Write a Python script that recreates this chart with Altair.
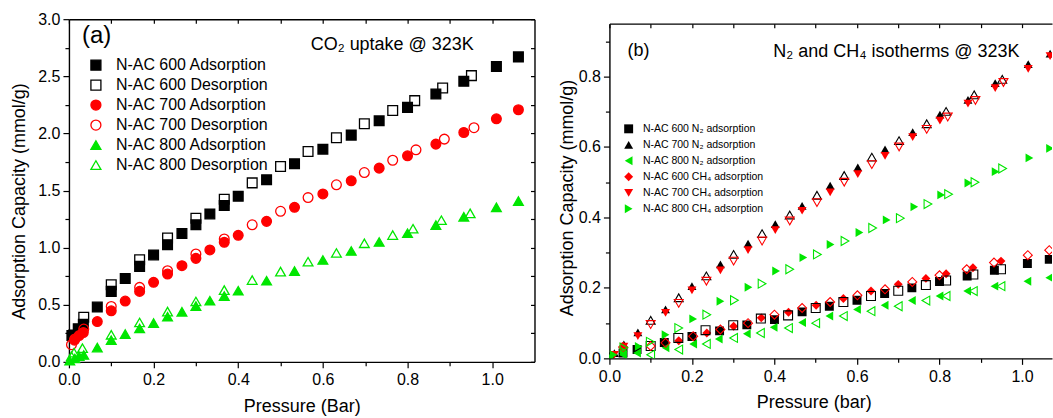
import altair as alt
import pandas as pd

FONT = "Liberation Sans"
BLACK = "#000000"
RED = "#ff0000"
GREEN = "#00e600"

# ---------------- Panel (a): CO2 uptake @ 323K ----------------
a600_ads_x = [0.007, 0.022, 0.034, 0.067, 0.1, 0.133, 0.167, 0.2, 0.233, 0.267, 0.3, 0.333, 0.367, 0.4, 0.467, 0.533, 0.6, 0.667, 0.733, 0.8, 0.867, 0.933, 1.01, 1.062]
a600_ads_y = [0.23, 0.29, 0.33, 0.48, 0.617, 0.73, 0.836, 0.936, 1.026, 1.123, 1.2, 1.295, 1.368, 1.45, 1.594, 1.734, 1.862, 1.985, 2.11, 2.228, 2.345, 2.456, 2.585, 2.67]
a600_des_x = [0.011, 0.035, 0.1, 0.167, 0.233, 0.3, 0.367, 0.433, 0.5, 0.565, 0.632, 0.698, 0.765, 0.817, 0.883, 0.951]
a600_des_y = [0.236, 0.39, 0.675, 0.894, 1.085, 1.257, 1.424, 1.567, 1.71, 1.842, 1.962, 2.085, 2.2, 2.287, 2.397, 2.506]
a700_ads_x = [0.013, 0.024, 0.034, 0.067, 0.1, 0.133, 0.167, 0.2, 0.233, 0.267, 0.3, 0.333, 0.367, 0.4, 0.467, 0.533, 0.6, 0.667, 0.733, 0.8, 0.867, 0.933, 1.01, 1.062]
a700_ads_y = [0.19, 0.23, 0.257, 0.353, 0.447, 0.532, 0.617, 0.696, 0.769, 0.842, 0.906, 0.98, 1.047, 1.108, 1.23, 1.353, 1.47, 1.585, 1.696, 1.804, 1.906, 2.008, 2.128, 2.207]
a700_des_x = [0.006, 0.014, 0.035, 0.1, 0.167, 0.233, 0.3, 0.367, 0.433, 0.5, 0.565, 0.632, 0.698, 0.765, 0.82, 0.887, 0.957]
a700_des_y = [0.15, 0.2, 0.287, 0.485, 0.652, 0.798, 0.945, 1.076, 1.2, 1.318, 1.438, 1.55, 1.657, 1.765, 1.856, 1.95, 2.05]
a800_ads_x = [0.002, 0.014, 0.024, 0.035, 0.067, 0.1, 0.133, 0.167, 0.2, 0.233, 0.267, 0.3, 0.333, 0.367, 0.4, 0.467, 0.533, 0.6, 0.667, 0.733, 0.8, 0.867, 0.933, 1.01, 1.062]
a800_ads_y = [0.01, 0.03, 0.05, 0.06, 0.125, 0.19, 0.243, 0.292, 0.339, 0.395, 0.438, 0.488, 0.535, 0.576, 0.623, 0.71, 0.795, 0.892, 0.971, 1.05, 1.126, 1.198, 1.27, 1.353, 1.408]
a800_des_x = [0.006, 0.012, 0.032, 0.1, 0.167, 0.233, 0.3, 0.367, 0.433, 0.5, 0.565, 0.632, 0.698, 0.765, 0.813, 0.88, 0.948]
a800_des_y = [0.05, 0.08, 0.12, 0.237, 0.345, 0.44, 0.529, 0.628, 0.716, 0.79, 0.877, 0.953, 1.038, 1.11, 1.166, 1.24, 1.30]

a_series = ["N-AC 600 Adsorption", "N-AC 600 Desorption", "N-AC 700 Adsorption",
            "N-AC 700 Desorption", "N-AC 800 Adsorption", "N-AC 800 Desorption"]
a_shapes = ["square", "square", "circle", "circle", "triangle-up", "triangle-up"]
a_fills = [BLACK, "transparent", RED, "transparent", GREEN, "transparent"]
a_strokes = [BLACK, BLACK, RED, RED, GREEN, GREEN]

# ---------------- Panel (b): N2 and CH4 isotherms @ 323K ----------------
b600n2_x = [0.0, 0.033, 0.067, 0.133, 0.2, 0.267, 0.333, 0.4, 0.467, 0.533, 0.6, 0.667, 0.733, 0.8, 0.867, 0.933, 1.013, 1.066]
b600n2_y = [0.005, 0.015, 0.025, 0.045, 0.062, 0.078, 0.095, 0.11, 0.132, 0.148, 0.165, 0.184, 0.2, 0.218, 0.234, 0.25, 0.269, 0.281]
b600n2o_x = [0.1, 0.167, 0.233, 0.3, 0.367, 0.433, 0.5, 0.567, 0.634, 0.7, 0.767, 0.816, 0.882, 0.949]
b600n2o_y = [0.035, 0.058, 0.08, 0.094, 0.113, 0.122, 0.143, 0.16, 0.177, 0.192, 0.208, 0.221, 0.238, 0.253]
b700n2_x = [0.0, 0.012, 0.035, 0.069, 0.136, 0.2, 0.269, 0.336, 0.402, 0.467, 0.535, 0.602, 0.668, 0.735, 0.801, 0.869, 0.935, 1.015, 1.068]
b700n2_y = [0.005, 0.015, 0.04, 0.074, 0.139, 0.205, 0.267, 0.326, 0.381, 0.433, 0.49, 0.542, 0.593, 0.642, 0.692, 0.734, 0.781, 0.835, 0.865]
b700n2o_x = [0.1, 0.168, 0.235, 0.301, 0.37, 0.437, 0.503, 0.569, 0.636, 0.702, 0.769, 0.816, 0.884, 0.952]
b700n2o_y = [0.108, 0.172, 0.234, 0.295, 0.354, 0.407, 0.463, 0.519, 0.571, 0.618, 0.666, 0.701, 0.748, 0.792]
b800n2_x = [0.0, 0.033, 0.067, 0.136, 0.203, 0.265, 0.333, 0.398, 0.467, 0.533, 0.6, 0.667, 0.733, 0.8, 0.867, 0.933, 1.013, 1.066]
b800n2_y = [0.003, 0.01, 0.015, 0.03, 0.041, 0.055, 0.07, 0.088, 0.102, 0.12, 0.139, 0.151, 0.164, 0.177, 0.191, 0.205, 0.219, 0.229]
b800n2o_x = [0.1, 0.168, 0.235, 0.301, 0.366, 0.434, 0.5, 0.567, 0.634, 0.7, 0.767, 0.816, 0.882, 0.949]
b800n2o_y = [0.01, 0.025, 0.041, 0.058, 0.072, 0.086, 0.1, 0.12, 0.134, 0.148, 0.164, 0.177, 0.191, 0.205]
b600ch4_x = [0.035, 0.168, 0.236, 0.301, 0.368, 0.434, 0.501, 0.567, 0.634, 0.7, 0.767, 0.816, 0.881, 0.949]
b600ch4_y = [0.03, 0.05, 0.072, 0.091, 0.115, 0.131, 0.151, 0.17, 0.191, 0.21, 0.227, 0.24, 0.257, 0.276]
b600ch4o_x = [0.033, 0.1, 0.136, 0.203, 0.269, 0.336, 0.4, 0.467, 0.535, 0.601, 0.668, 0.734, 0.8, 0.866, 0.932, 1.014, 1.066]
b600ch4o_y = [0.032, 0.035, 0.044, 0.063, 0.082, 0.1, 0.124, 0.143, 0.16, 0.179, 0.196, 0.217, 0.236, 0.253, 0.272, 0.293, 0.307]
b700ch4_x = [0.012, 0.035, 0.069, 0.136, 0.2, 0.269, 0.336, 0.402, 0.467, 0.535, 0.602, 0.668, 0.735, 0.801, 0.869, 0.935, 1.015, 1.068]
b700ch4_y = [0.01, 0.033, 0.063, 0.129, 0.193, 0.25, 0.307, 0.364, 0.419, 0.471, 0.523, 0.575, 0.628, 0.675, 0.723, 0.767, 0.822, 0.858]
b700ch4o_x = [0.1, 0.168, 0.235, 0.301, 0.37, 0.437, 0.503, 0.569, 0.636, 0.702, 0.769, 0.82, 0.887, 0.955]
b700ch4o_y = [0.096, 0.156, 0.219, 0.276, 0.333, 0.39, 0.442, 0.5, 0.55, 0.6, 0.65, 0.685, 0.732, 0.783]
b800ch4_x = [0.0, 0.01, 0.035, 0.071, 0.136, 0.203, 0.269, 0.337, 0.404, 0.47, 0.536, 0.606, 0.672, 0.739, 0.804, 0.87, 0.936, 1.018, 1.068]
b800ch4_y = [0.005, 0.01, 0.02, 0.034, 0.067, 0.112, 0.162, 0.202, 0.248, 0.286, 0.323, 0.357, 0.393, 0.43, 0.464, 0.498, 0.53, 0.569, 0.596]
b800ch4o_x = [0.035, 0.099, 0.168, 0.236, 0.303, 0.37, 0.437, 0.504, 0.571, 0.638, 0.705, 0.772, 0.822, 0.886, 0.953]
b800ch4o_y = [0.03, 0.047, 0.086, 0.124, 0.165, 0.212, 0.253, 0.295, 0.333, 0.37, 0.398, 0.438, 0.466, 0.5, 0.539]

b_series = ["N-AC 600 N\u2082 adsorption", "N-AC 700 N\u2082 adsorption", "N-AC 800 N\u2082 adsorption",
            "N-AC 600 CH\u2084 adsorption", "N-AC 700 CH\u2084 adsorption", "N-AC 800 CH\u2084 adsorption"]
b_shapes = ["square", "triangle-up", "triangle-left", "diamond", "triangle-down", "triangle-right"]
b_colors = [BLACK, BLACK, GREEN, RED, RED, GREEN]

a_ticks_x = [0.0, 0.1, 0.2, 0.3, 0.4, 0.5, 0.6, 0.7, 0.8, 0.9, 1.0]
a_ticks_y = [0.0, 0.25, 0.5, 0.75, 1.0, 1.25, 1.5, 1.75, 2.0, 2.25, 2.5, 2.75, 3.0]
b_ticks_x = [0.0, 0.1, 0.2, 0.3, 0.4, 0.5, 0.6, 0.7, 0.8, 0.9, 1.0]
b_ticks_y = [0.0, 0.1, 0.2, 0.3, 0.4, 0.5, 0.6, 0.7, 0.8, 0.9]


def long_df(groups):
    rows = []
    for name, xs, ys in groups:
        for xv, yv in zip(xs, ys):
            rows.append({"x": xv, "y": yv, "series": name})
    return pd.DataFrame(rows)


dfa = long_df([
    (a_series[0], a600_ads_x, a600_ads_y), (a_series[1], a600_des_x, a600_des_y),
    (a_series[2], a700_ads_x, a700_ads_y), (a_series[3], a700_des_x, a700_des_y),
    (a_series[4], a800_ads_x, a800_ads_y), (a_series[5], a800_des_x, a800_des_y),
])
dfb_f = long_df([
    (b_series[0], b600n2_x, b600n2_y), (b_series[1], b700n2_x, b700n2_y),
    (b_series[2], b800n2_x, b800n2_y), (b_series[3], b600ch4_x, b600ch4_y),
    (b_series[4], b700ch4_x, b700ch4_y), (b_series[5], b800ch4_x, b800ch4_y),
])
dfb_o = long_df([
    (b_series[0], b600n2o_x, b600n2o_y), (b_series[1], b700n2o_x, b700n2o_y),
    (b_series[2], b800n2o_x, b800n2o_y), (b_series[3], b600ch4o_x, b600ch4o_y),
    (b_series[4], b700ch4o_x, b700ch4o_y), (b_series[5], b800ch4o_x, b800ch4o_y),
])

AW, AH = 466, 343
BW, BH = 443, 335
AXD = [0, 1.1]
AYD = [0, 3.0]
BXD = [0, 443 / 413]
BYD = [0, 0.95]

X_MAJOR = "round(datum.value*10) % 2 === 0"
AY_MAJOR = "round(datum.value*4) % 2 === 0"


def main_axis(values, test, title, title_x=None, title_y=None, title_pad=10, label_pad=4):
    kw = dict(
        values=values,
        labelExpr="(" + test + ") ? format(datum.value, '.1f') : ''",
        tickSize={"condition": {"test": test, "value": 6}, "value": 4},
        title=title, grid=False,
        labelFont=FONT, titleFont=FONT, labelFontSize=16, titleFontSize=18,
        titleFontWeight="normal", labelColor=BLACK, titleColor=BLACK,
        domainColor=BLACK, tickColor=BLACK, domainWidth=1.4, tickWidth=1.2,
        labelPadding=label_pad, titlePadding=title_pad, labelFlush=False, labelOverlap=False,
    )
    if title_x is not None:
        kw["titleX"] = title_x
    if title_y is not None:
        kw["titleY"] = title_y
    return alt.Axis(**kw)


def mirror_axis(orient, values, domain=True):
    return alt.Axis(orient=orient, values=values, labels=False, title="", grid=False,
                    tickSize={"expr": "-4"}, tickColor=BLACK, tickWidth=1.2,
                    domain=domain, domainColor=BLACK, domainWidth=1.4)


# ---------- Panel (a) ----------
legA = alt.Legend(title=None, orient="none", legendX=19, legendY=38, padding=0,
                  labelFont=FONT, labelFontSize=16, labelColor=BLACK,
                  symbolSize=100, symbolStrokeWidth=1.3, rowPadding=4, labelOffset=12)

pts_a = alt.Chart(dfa).mark_point(filled=True, size=95, strokeWidth=1.3, opacity=1).encode(
    x=alt.X("x:Q", scale=alt.Scale(domain=AXD, nice=False, zero=False),
            axis=main_axis(a_ticks_x, X_MAJOR, "Pressure (Bar)", title_pad=10)),
    y=alt.Y("y:Q", scale=alt.Scale(domain=AYD, nice=False),
            axis=main_axis(a_ticks_y, AY_MAJOR, "Adsorption Capacity (mmol/g)", title_y=182, title_pad=9, label_pad=3)),
    shape=alt.Shape("series:N", scale=alt.Scale(domain=a_series, range=a_shapes), legend=legA),
    fill=alt.Fill("series:N", scale=alt.Scale(domain=a_series, range=a_fills), legend=legA),
    stroke=alt.Stroke("series:N", scale=alt.Scale(domain=a_series, range=a_strokes), legend=legA),
)

mir_a = alt.Chart(dfa).mark_point(opacity=0).encode(
    x=alt.X("x:Q", scale=alt.Scale(domain=AXD, nice=False, zero=False), axis=mirror_axis("top", a_ticks_x)),
    y=alt.Y("y:Q", scale=alt.Scale(domain=AYD, nice=False), axis=mirror_axis("right", a_ticks_y)),
)

lab_a = alt.Chart(pd.DataFrame({"t": ["(a)"]})).mark_text(
    font=FONT, fontSize=24, align="left", baseline="middle", color=BLACK
).encode(text="t:N", x=alt.value(13), y=alt.value(17))

title_a = alt.Chart(pd.DataFrame({"t": ["CO\u2082 uptake @ 323K"]})).mark_text(
    font=FONT, fontSize=18, align="left", baseline="middle", color=BLACK
).encode(text="t:N", x=alt.value(242), y=alt.value(26))

panel_a = alt.layer(pts_a, mir_a, lab_a, title_a).resolve_axis(
    x="independent", y="independent").properties(width=AW, height=AH)

# ---------- Panel (b) ----------
legB = alt.Legend(title=None, orient="none", legendX=14, legendY=100, padding=0,
                  labelFont=FONT, labelFontSize=10.5, labelColor=BLACK,
                  symbolSize=80, symbolStrokeWidth=0, rowPadding=5, labelOffset=9)

sx_b = alt.Scale(domain=BXD, nice=False, zero=False)
sy_b = alt.Scale(domain=BYD, nice=False)

pts_bf = alt.Chart(dfb_f).mark_point(filled=True, size=80, opacity=1, clip=True).encode(
    x=alt.X("x:Q", scale=sx_b, axis=main_axis(b_ticks_x, X_MAJOR, "Pressure (bar)", title_x=204.5, title_pad=9)),
    y=alt.Y("y:Q", scale=sy_b,
            axis=main_axis(b_ticks_y, X_MAJOR, "Adsorption Capacity (mmol/g)", title_y=174, title_pad=2, label_pad=3)),
    shape=alt.Shape("series:N", scale=alt.Scale(domain=b_series, range=b_shapes), legend=legB),
    fill=alt.Fill("series:N", scale=alt.Scale(domain=b_series, range=b_colors), legend=legB),
)

pts_bo = alt.Chart(dfb_o).mark_point(filled=False, size=80, opacity=1, strokeWidth=1.1, clip=True).encode(
    x=alt.X("x:Q", scale=sx_b, axis=None),
    y=alt.Y("y:Q", scale=sy_b, axis=None),
    shape=alt.Shape("series:N", legend=None),
    stroke=alt.Stroke("series:N", scale=alt.Scale(domain=b_series, range=b_colors), legend=None),
)

mir_b = alt.Chart(dfb_f).mark_point(opacity=0).encode(
    x=alt.X("x:Q", scale=sx_b, axis=mirror_axis("top", b_ticks_x)),
    y=alt.Y("y:Q", scale=sy_b, axis=None),
)

lab_b = alt.Chart(pd.DataFrame({"t": ["(b)"]})).mark_text(
    font=FONT, fontSize=18, align="left", baseline="middle", color=BLACK
).encode(text="t:N", x=alt.value(18), y=alt.value(27))

title_b = alt.Chart(pd.DataFrame({"t": ["N\u2082 and CH\u2084 isotherms @ 323K"]})).mark_text(
    font=FONT, fontSize=18, align="left", baseline="middle", color=BLACK
).encode(text="t:N", x=alt.value(164), y=alt.value(28))

panel_b = alt.layer(pts_bf, pts_bo, mir_b, lab_b, title_b).resolve_axis(
    x="independent", y="independent").properties(width=BW, height=BH)

chart = alt.hconcat(panel_a, panel_b, spacing=22, center=True).resolve_scale(
    x="independent", y="independent", shape="independent", fill="independent", stroke="independent"
).resolve_legend(shape="independent", fill="independent", stroke="independent").configure(
    padding={"left": 10, "top": 11, "right": 0, "bottom": 0},
    background="white",
).configure_view(strokeWidth=0)

chart.save("out.html", embed_options={"renderer": "svg", "actions": False})
